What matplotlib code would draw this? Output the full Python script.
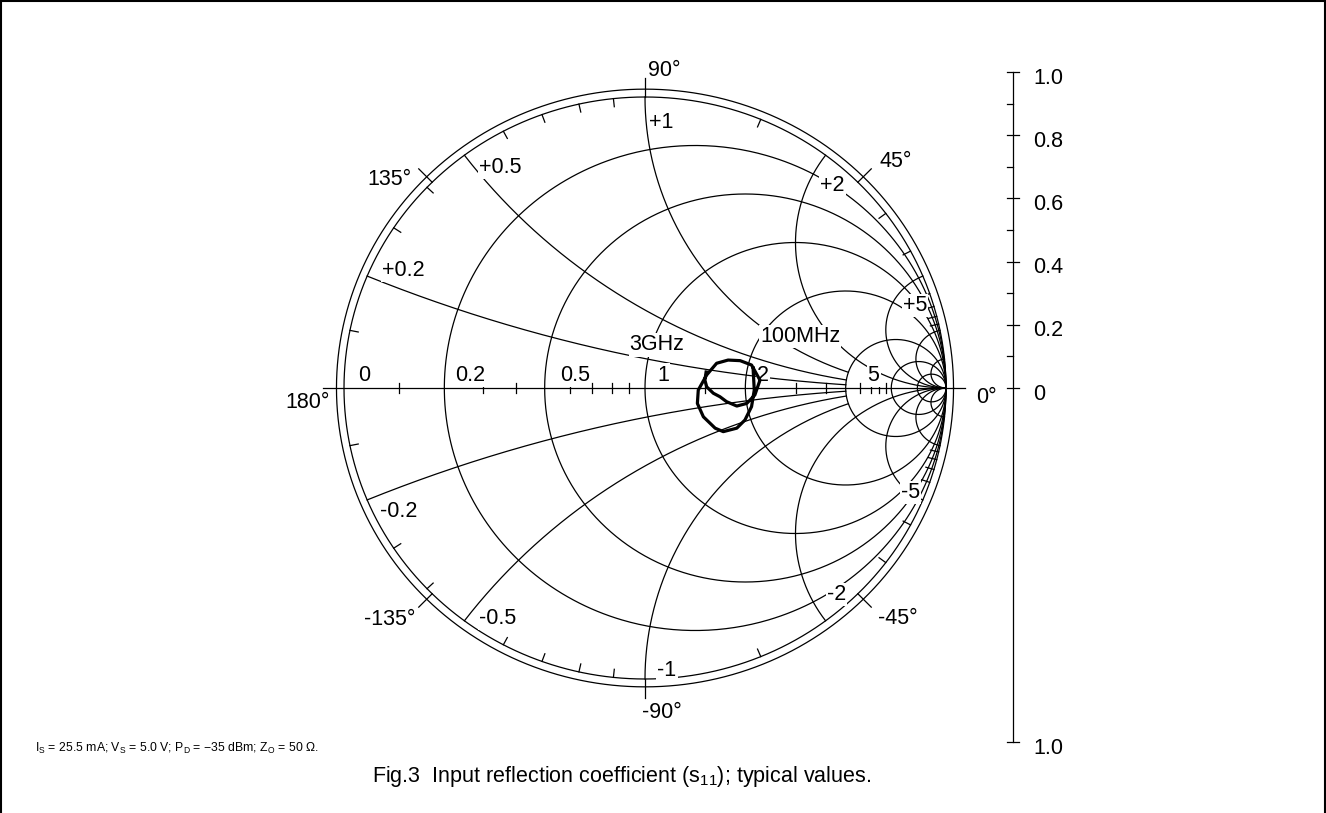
import numpy as np
import matplotlib.pyplot as plt
from matplotlib.lines import Line2D

plt.rcParams['font.family'] = ['Liberation Sans', 'DejaVu Sans']
plt.rcParams['mathtext.fontset'] = 'custom'
plt.rcParams['mathtext.rm'] = 'Liberation Sans'

# smith chart grid
r_circles = [0.2, 0.5, 1, 2, 5, 10, 20]
x_arcs = [0.2, 0.5, 1, 2, 5, 10, 20]
x_arc_rmax = [5, 5, 5, 1e5, 1e5, 1e5, 1e5]   # resistance where each reactance arc stops
minor_vals = [0.1, 0.3, 0.4, 0.6, 0.7, 0.8, 0.9, 1.5, 3, 4, 6, 7, 8, 9]

r_label_vals = [0, 0.2, 0.5, 1, 2, 5]
r_labels = ['0', '0.2', '0.5', '1', '2', '5']
x_label_vals = [0.2, 0.5, 1, 2, 5, -0.2, -0.5, -1, -2, -5]
x_labels = ['+0.2', '+0.5', '+1', '+2', '+5', '-0.2', '-0.5', '-1', '-2', '-5']
angle_vals = [0, 45, 90, 135, 180, -135, -90, -45]
angle_labels = ['0°', '45°', '90°', '135°', '180°', '-135°', '-90°', '-45°']

# s11, 100 MHz -> 3 GHz (real, imag of reflection coefficient)
s11_re = [0.359, 0.363, 0.354, 0.332, 0.305, 0.260, 0.233, 0.194, 0.174, 0.177,
          0.205, 0.238, 0.276, 0.316, 0.354, 0.382, 0.365, 0.338, 0.305, 0.271,
          0.249, 0.227, 0.205, 0.199, 0.203]
s11_im = [0.069, -0.007, -0.064, -0.110, -0.138, -0.150, -0.138, -0.099, -0.053, -0.007,
          0.045, 0.085, 0.096, 0.094, 0.079, 0.027, -0.024, -0.053, -0.062, -0.047,
          -0.030, -0.018, 0.004, 0.027, 0.055]

# magnitude scale on the right
scale_vals = [0, 0.2, 0.4, 0.6, 0.8, 1.0]
scale_minor = [0.1, 0.3, 0.5, 0.7, 0.9]

PX_X = 301.0   # pixels per unit of gamma, horizontal
PX_Y = 291.0   # vertical
CX, CY = 645.0, 388.0
W, H = 1326, 813

fig = plt.figure(figsize=(W / 100, H / 100), dpi=100)
ax = fig.add_axes([0, 0, 1, 1])
ax.set_xlim(-CX / PX_X, (W - CX) / PX_X)
ax.set_ylim(-(H - CY) / PX_Y, CY / PX_Y)
ax.axis('off')

lc = 'black'
lw = 0.9

t = np.linspace(0, 2 * np.pi, 721)
# unit circle and outer ring
ax.plot(np.cos(t), np.sin(t), color=lc, lw=lw)
ax.plot(1.025 * np.cos(t), 1.027 * np.sin(t), color=lc, lw=lw)

for r in r_circles:
    c = r / (1 + r)
    rad = 1 / (1 + r)
    ax.plot(c + rad * np.cos(t), rad * np.sin(t), color=lc, lw=lw)

for x, rmax in zip(x_arcs, x_arc_rmax):
    rr = np.concatenate([[0], np.logspace(-3, np.log10(rmax), 2000)])
    for s in (1, -1):
        g = (rr + 1j * s * x - 1) / (rr + 1j * s * x + 1)
        ax.plot(g.real, g.imag, color=lc, lw=lw)

# real axis
ax.plot([-1.07, 1.063], [0, 0], color=lc, lw=lw)
for v in minor_vals:
    g = (v - 1) / (v + 1)
    ax.plot([g, g], [-0.017, 0.017], color=lc, lw=lw)
    # reactance ticks on the rim
    for s in (1, -1):
        p = (1j * s * v - 1) / (1j * s * v + 1)
        a = np.angle(p)
        ax.plot([np.cos(a), 0.972 * np.cos(a)], [np.sin(a), 0.972 * np.sin(a)], color=lc, lw=lw)

# angle ticks
for a in angle_vals:
    if a in (0, 180):
        continue
    ar = np.radians(a)
    ax.plot([np.cos(ar), 1.063 * np.cos(ar)], [np.sin(ar), 1.065 * np.sin(ar)], color=lc, lw=lw)


def px(dx, dy):
    return (dx * 0.72, dy * 0.72)


fs = 15.5
angle_off = [(11, -9, 'left'), (24, 7, 'center'), (3, 8, 'left'), (-29, -11, 'center'),
             (5, -14, 'right'), (-29, -12, 'center'), (17, -15, 'center'), (27, -11, 'center')]
for a, lab, (dx, dy, ha) in zip(angle_vals, angle_labels, angle_off):
    ar = np.radians(a)
    ax.annotate(lab, (1.063 * np.cos(ar), 1.065 * np.sin(ar)), xytext=px(dx, dy),
                textcoords='offset points', ha=ha, va='center', fontsize=fs)

r_off = [14, 11, 15, 12, 12, 22]
for v, lab, dx in zip(r_label_vals, r_labels, r_off):
    g = (v - 1) / (v + 1)
    ax.annotate(lab, (g, 0), xytext=px(dx, 13), textcoords='offset points',
                ha='left', va='center', fontsize=fs,
                bbox=dict(boxstyle='square,pad=0.05', fc='white', ec='none'))

x_off = [(36, 6), (36, -12), (16, -25), (7, -30), (-8, -29),
         (32, -12), (33, 2), (22, 9), (11, 26), (-12, 7)]
for v, lab, (dx, dy) in zip(x_label_vals, x_labels, x_off):
    p = (1j * v - 1) / (1j * v + 1)
    ax.annotate(lab, (p.real, p.imag), xytext=px(dx, dy), textcoords='offset points',
                ha='center', va='center', fontsize=fs,
                bbox=dict(boxstyle='square,pad=0.05', fc='white', ec='none'))

# measured curve
ax.plot(s11_re, s11_im, color='black', lw=2.3, solid_joinstyle='round', zorder=5)
ax.annotate('100MHz', (s11_re[0], s11_im[0]), xytext=px(47, 31), textcoords='offset points',
            ha='center', va='center', fontsize=fs,
            bbox=dict(boxstyle='square,pad=0.05', fc='white', ec='none'))
ax.annotate('3GHz', (s11_re[-1], s11_im[-1]), xytext=px(-49, 27), textcoords='offset points',
            ha='center', va='center', fontsize=fs,
            bbox=dict(boxstyle='square,pad=0.05', fc='white', ec='none'))

# right hand scale
sx = (1013 - CX) / PX_X
top = (CY - 72) / PX_Y
bot = -(742 - CY) / PX_Y
ax.plot([sx, sx], [bot, top], color=lc, lw=lw)
tk = 6 / PX_X
for v in scale_vals:
    y = v * top
    ax.plot([sx - tk, sx + tk], [y, y], color=lc, lw=lw)
    ax.annotate('%g' % v if v == 0 else '%.1f' % v, (sx, y), xytext=px(20, -6),
                textcoords='offset points', ha='left', va='center', fontsize=fs)
for v in scale_minor:
    y = v * top
    ax.plot([sx - tk, sx], [y, y], color=lc, lw=lw)
ax.plot([sx - tk, sx + tk], [bot, bot], color=lc, lw=lw)
ax.annotate('1.0', (sx, bot), xytext=px(20, -6), textcoords='offset points',
            ha='left', va='center', fontsize=fs)

# frame
fig.add_artist(Line2D([0.001, 0.001], [0, 0.999], transform=fig.transFigure, color='black', lw=1.5))
fig.add_artist(Line2D([0.001, 0.999], [0.999, 0.999], transform=fig.transFigure, color='black', lw=1.5))
fig.add_artist(Line2D([0.999, 0.999], [0, 0.999], transform=fig.transFigure, color='black', lw=1.5))

fig.text(35 / W, 1 - 748 / H,
         r'I$_\mathregular{S}$ = 25.5 mA; V$_\mathregular{S}$ = 5.0 V; '
         r'P$_\mathregular{D}$ = $-$35 dBm; Z$_\mathregular{O}$ = 50 $\mathregular{\Omega}$.',
         ha='left', va='center', fontsize=8.8)
fig.text(622 / W, 1 - 776 / H,
         r'Fig.3  Input reflection coefficient (s$_\mathregular{11}$); typical values.',
         ha='center', va='center', fontsize=15.5)

fig.savefig('out.png', dpi=100)
